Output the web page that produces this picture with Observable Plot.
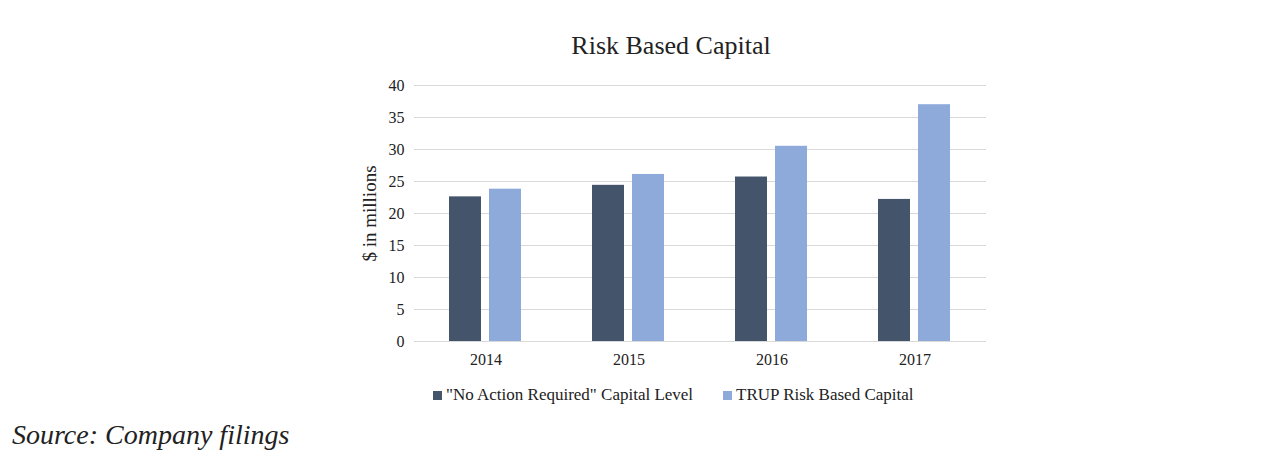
<!DOCTYPE html>
<html><head><meta charset="utf-8">
<script src="https://cdn.jsdelivr.net/npm/d3@7"></script>
<script src="https://cdn.jsdelivr.net/npm/@observablehq/plot@0.6"></script>
<style>
body{margin:0;background:#fff;font-family:"Liberation Serif","Times New Roman",serif;color:#222;}
#wrap{position:relative;width:1266px;height:457px;overflow:hidden;}
#title{position:absolute;left:0;width:1342px;top:31px;text-align:center;font-size:26px;}
#chart{position:absolute;left:0;top:65px;}
#legend{position:absolute;top:385px;left:433px;font-size:17px;white-space:nowrap;}
#legend span.sw{display:inline-block;width:9px;height:9px;margin-right:4px;}
#legend span.item{display:inline-block;}
#source{position:absolute;left:12px;top:419px;font-size:28px;font-style:italic;}
</style></head>
<body><div id="wrap">
<div id="title">Risk Based Capital</div>
<div id="chart"></div>
<div id="legend"></div>
<div id="source">Source: Company filings</div>
</div>
<script>
const years = ["2014","2015","2016","2017"];
const seriesNames = ["\"No Action Required\" Capital Level","TRUP Risk Based Capital"];
const noActionValues = [22.6, 24.4, 25.7, 22.2];
const trupValues = [23.8, 26.1, 30.5, 37.0];
const seriesColors = ["#44546a","#8eaadb"];
const yTicks = [0,5,10,15,20,25,30,35,40];

const data = [];
years.forEach((y,i)=>{
  data.push({year:y, series:seriesNames[0], value:noActionValues[i]});
  data.push({year:y, series:seriesNames[1], value:trupValues[i]});
});

const chart = Plot.plot({
  width:1266, height:310,
  marginLeft:413, marginRight:279, marginTop:20, marginBottom:34,
  style:{fontFamily:"'Liberation Serif','Times New Roman',serif", fontSize:"16px", color:"#222"},
  fx:{domain:years, padding:0, label:null},
  x:{domain:seriesNames, axis:null, paddingInner:0.195, paddingOuter:0.848},
  y:{domain:[0,40], ticks:yTicks, label:"$ in millions", labelAnchor:"center", labelArrow:"none"},
  color:{domain:seriesNames, range:seriesColors},
  marks:[
    Plot.gridY(yTicks, {stroke:"#d9d9d9", strokeOpacity:1}),
    Plot.axisY({ticks:yTicks, tickSize:0, tickPadding:10, label:null}),
    Plot.axisY({ticks:[], tickSize:0, label:"$ in millions", labelAnchor:"center", labelArrow:"none", labelOffset:52, fontSize:19}),
    Plot.axisFx({anchor:"bottom", tickSize:0, tickPadding:12, label:null}),
    Plot.barY(data, {fx:"year", x:"series", y:"value", fill:"series"}),
    Plot.ruleY([0], {stroke:"#d9d9d9"})
  ]
});
document.getElementById("chart").appendChild(chart);

const lg = document.getElementById("legend");
seriesNames.forEach((n,i)=>{
  const it = document.createElement("span");
  it.className="item";
  if(i>0) it.style.marginLeft="30px";
  it.innerHTML = `<span class="sw" style="background:${seriesColors[i]}"></span>`;
  it.appendChild(document.createTextNode(n));
  lg.appendChild(it);
});
</script>
</body></html>
